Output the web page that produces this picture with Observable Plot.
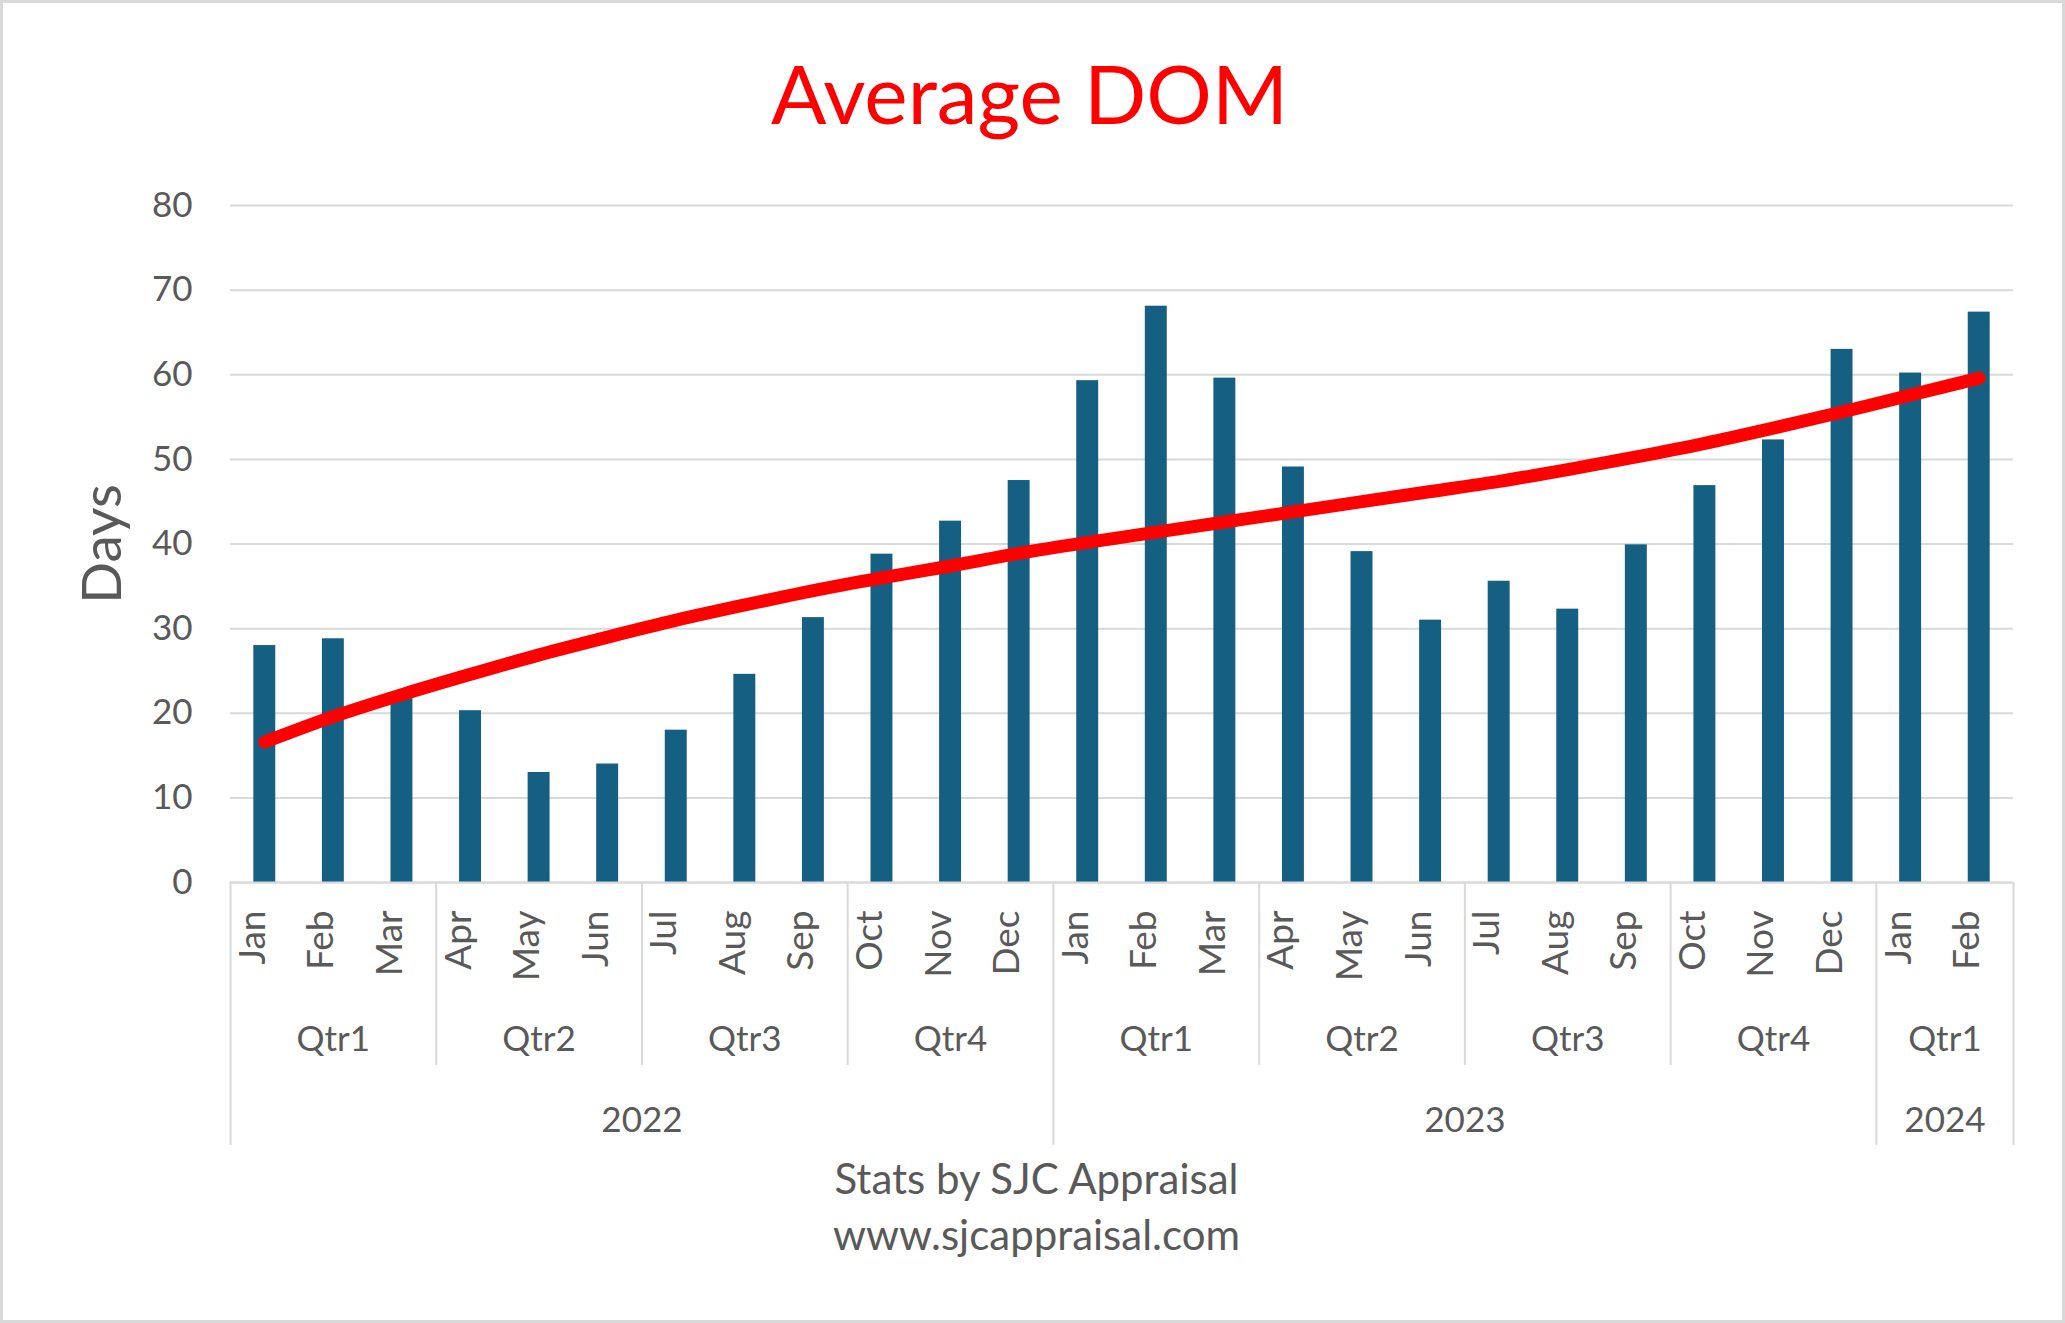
<!DOCTYPE html>
<html>
<head>
<meta charset="utf-8">
<script src="https://cdn.jsdelivr.net/npm/d3@7"></script>
<script src="https://cdn.jsdelivr.net/npm/@observablehq/plot@0.6"></script>
<style>
  html, body { margin: 0; padding: 0; background: #fff; }
  #chart svg { display: block; outline: 3px solid #d9d9d9; outline-offset: -3px; }
</style>
</head>
<body>
<div id="chart"></div>
<script>
// ---------- data ----------
const titleText = "Average DOM";
const yLabel = "Days";
const captionLines = ["Stats by SJC Appraisal", "www.sjcappraisal.com"];

const months = ["Jan","Feb","Mar","Apr","May","Jun","Jul","Aug","Sep","Oct","Nov","Dec",
                "Jan","Feb","Mar","Apr","May","Jun","Jul","Aug","Sep","Oct","Nov","Dec",
                "Jan","Feb"];
const quarterLabels = ["Qtr1","Qtr2","Qtr3","Qtr4","Qtr1","Qtr2","Qtr3","Qtr4","Qtr1"];
const quarterSizes  = [3, 3, 3, 3, 3, 3, 3, 3, 2];
const yearLabels = ["2022", "2023", "2024"];
const yearSizes  = [12, 12, 2];

const dom = [28.0, 28.8, 22.0, 20.3, 13.0, 14.0, 18.0, 24.6, 31.3, 38.8, 42.7, 47.5,
             59.3, 68.1, 59.6, 49.1, 39.1, 31.0, 35.6, 32.3, 39.9, 46.9, 52.3, 63.0,
             60.2, 67.4];
const trend = [16.6, 19.6, 22.2, 24.6, 26.9, 29.0, 31.0, 32.8, 34.5, 36.0, 37.4, 38.9,
               40.2, 41.4, 42.6, 43.8, 45.0, 46.2, 47.4, 48.8, 50.3, 51.9, 53.7, 55.6,
               57.6, 59.6];
const yTicks = [0, 10, 20, 30, 40, 50, 60, 70, 80];

// ---------- derived tables ----------
const data = months.map((m, i) => ({i, month: m, dom: dom[i], trend: trend[i]}));
function groups(labels, sizes) {
  let s = 0;
  return labels.map((l, k) => {
    const g = {label: l, start: s, end: s + sizes[k] - 1, mid: s + (sizes[k] - 1) / 2};
    s += sizes[k];
    return g;
  });
}
const quarters = groups(quarterLabels, quarterSizes);
const years = groups(yearLabels, yearSizes);
const yearBounds = [-0.5, ...years.map(g => g.end + 0.5)];
const quarterBounds = quarters.map(g => g.end + 0.5).filter(b => !yearBounds.includes(b));

// ---------- layout ----------
const W = 2065, H = 1323;
const mt = 205, mb = 441, ml = 230, mr = 52;
const frameBottom = H - mb;
const frameH = H - mt - mb;
const frameCx = ml + (W - ml - mr) / 2;
const grey = "#d9d9d9";
const font = "Lato, 'Open Sans', sans-serif";

const chart = Plot.plot({
  width: W, height: H,
  marginTop: mt, marginBottom: mb, marginLeft: ml, marginRight: mr,
  style: {fontFamily: font, color: "#595959", background: "#fff", overflow: "visible"},
  x: {domain: [-0.5, months.length - 0.5], axis: null},
  y: {domain: [0, 80]},
  marks: [
    Plot.gridY(yTicks, {stroke: grey, strokeOpacity: 1, strokeWidth: 2}),
    Plot.axisY(yTicks, {tickSize: 0, tickPadding: 38, fontSize: 35, label: null}),
    Plot.rectY(data, {x1: d => d.i - 0.16, x2: d => d.i + 0.16, y: "dom", fill: "#156082"}),
    Plot.line(data, {x: "i", y: "trend", stroke: "#ff0000", strokeWidth: 13,
                     strokeLinecap: "round", strokeLinejoin: "round", curve: "catmull-rom"}),
    // category axis
    Plot.ruleY([0], {stroke: grey, strokeWidth: 2}),
    Plot.ruleX(yearBounds, {x: d => d, stroke: grey, strokeWidth: 2,
                            insetTop: frameH, insetBottom: -(1145 - frameBottom)}),
    Plot.ruleX(quarterBounds, {x: d => d, stroke: grey, strokeWidth: 2,
                               insetTop: frameH, insetBottom: -(1065 - frameBottom)}),
    Plot.text(data, {x: "i", text: "month", frameAnchor: "bottom", rotate: -90,
                     textAnchor: "end", dy: 28, fontSize: 37}),
    Plot.text(quarters, {x: "mid", text: "label", frameAnchor: "bottom", lineAnchor: "bottom",
                         dy: 1050 - frameBottom, fontSize: 35}),
    Plot.text(years, {x: "mid", text: "label", frameAnchor: "bottom", lineAnchor: "bottom",
                      dy: 1131 - frameBottom, fontSize: 35}),
    // y label
    Plot.text([yLabel], {text: d => d, frameAnchor: "left", rotate: -90, textAnchor: "middle",
                         lineAnchor: "bottom", dx: 120 - ml, fontSize: 55}),
    // title
    Plot.text([titleText], {text: d => d, frameAnchor: "top", lineAnchor: "bottom",
                            dx: 1029 - frameCx, dy: 123 - mt, fontSize: 82, fill: "#ff0000"}),
    // caption
    Plot.text([captionLines[0]], {text: d => d, frameAnchor: "bottom", lineAnchor: "bottom",
                                  dx: 1036 - frameCx, dy: 1193 - frameBottom, fontSize: 42}),
    Plot.text([captionLines[1]], {text: d => d, frameAnchor: "bottom", lineAnchor: "bottom",
                                  dx: 1036 - frameCx, dy: 1249 - frameBottom, fontSize: 42})
  ]
});
document.getElementById("chart").appendChild(chart);
</script>
</body>
</html>
